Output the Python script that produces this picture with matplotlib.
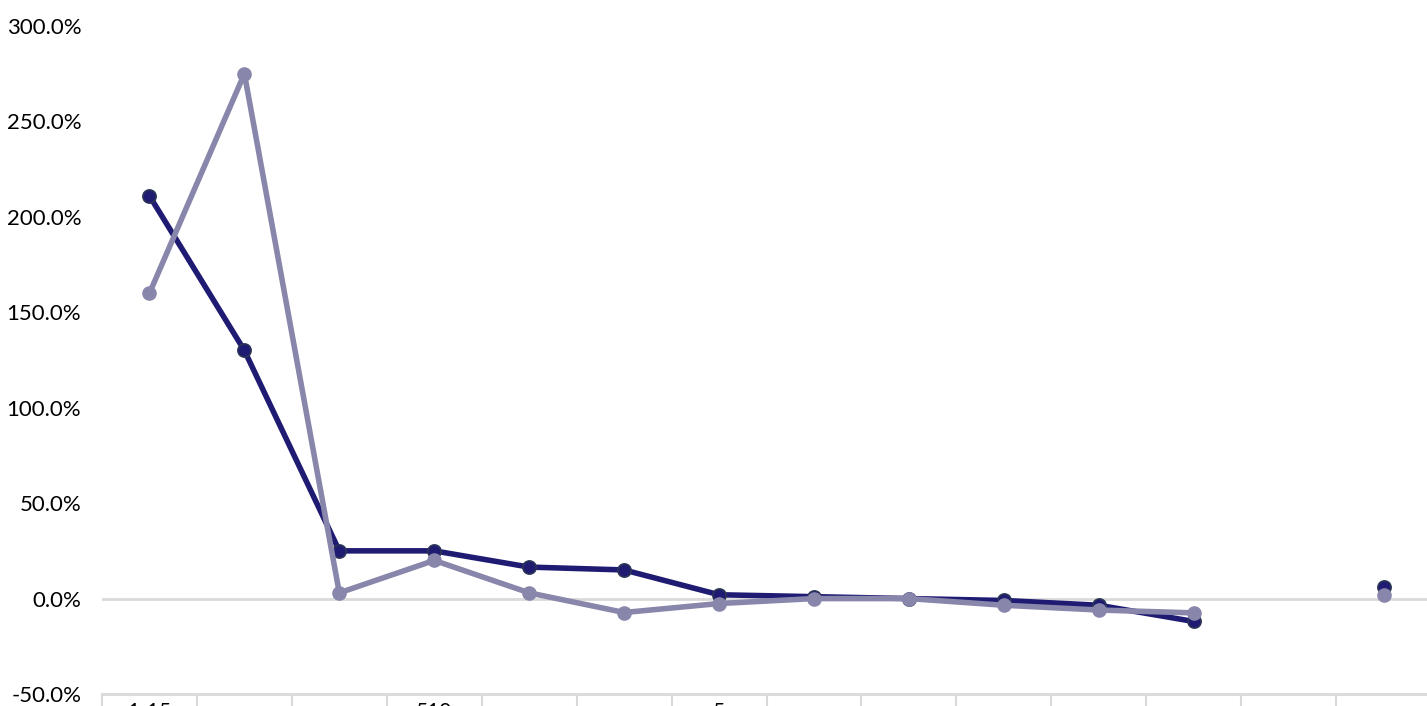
import matplotlib.pyplot as plt
import numpy as np
from matplotlib.ticker import FuncFormatter, MultipleLocator

# category labels (mostly cut off at the bottom of the reference)
categories = ["1-15", "", "", "510", "", "", "5", "", "", "", "", "", "", ""]

# series values in percent (None = no data)
series_dark = [211, 130, 25, 25, 16.5, 15, 2, 1, 0, -1, -3.5, -12, None, 6]
series_light = [160, 275, 3, 20, 3, -7.3, -2.6, 0, 0, -3.5, -6, -7.5, None, 2]

dark_color = '#1f1b72'
light_color = '#8886ab'
font = ['Lato', 'DejaVu Sans']

fig = plt.figure(figsize=(14.27, 7.06), dpi=100)
# plot area runs a little past the right edge, as in the reference
ax = fig.add_axes([102 / 1427, 12 / 706, 1329 / 1427, 668 / 706])

x = np.arange(len(categories))
yd = np.array([np.nan if v is None else v for v in series_dark], dtype=float)
yl = np.array([np.nan if v is None else v for v in series_light], dtype=float)

ax.axhline(0, color='#d9d9d9', lw=2, zorder=1)

ax.plot(x, yd, color=dark_color, lw=4.0, marker='o', ms=9.5,
        mfc=dark_color, mec='#2b3556', mew=1.2, zorder=3)
ax.plot(x, yl, color=light_color, lw=4.0, marker='o', ms=9.5,
        mfc=light_color, mec=light_color, zorder=4)

ax.set_xlim(-0.5, len(categories) - 0.5)
ax.set_ylim(-50, 300)
ax.yaxis.set_major_locator(MultipleLocator(50))
ax.yaxis.set_major_formatter(FuncFormatter(lambda v, p: f"{v:.1f}%"))

for s in ['top', 'right', 'left']:
    ax.spines[s].set_visible(False)
ax.spines['bottom'].set_color('#d9d9d9')
ax.spines['bottom'].set_linewidth(2)

ax.tick_params(axis='y', length=0, pad=15, labelsize=16)
for lab in ax.get_yticklabels():
    lab.set_fontfamily(font)

# category boundary ticks
ax.set_xticks(np.arange(-0.5, len(categories), 1.0), minor=True)
ax.tick_params(axis='x', which='minor', length=12, width=1.5, color='#d9d9d9')
ax.set_xticks(x)
ax.set_xticklabels(categories, fontsize=15, family=font)
ax.tick_params(axis='x', which='major', length=0, pad=6)

fig.savefig('out.png', dpi=100)
